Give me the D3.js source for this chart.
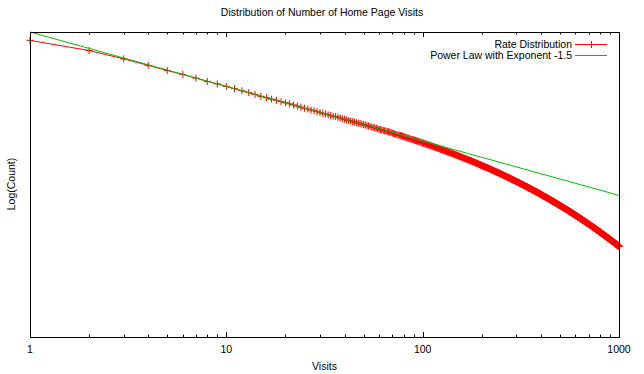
<!DOCTYPE html>
<html>
<head>
<meta charset="utf-8">
<script src="https://cdn.jsdelivr.net/npm/d3@7"></script>
<style>
  body { margin: 0; background: #fff; }
  text { font-family: "Liberation Sans", Arial, Helvetica, sans-serif; font-size: 10.5px; fill: #000; }
</style>
</head>
<body>
<div id="app"></div>
<script>
const title = 'Distribution of Number of Home Page Visits';
const xLabel = 'Visits';
const yLabel = 'Log(Count)';
const seriesNames = ['Rate Distribution', 'Power Law with Exponent -1.5'];
const xTickValues = [1, 10, 100, 1000];
const xTickLabels = ['1', '10', '100', '1000'];

// log10(count) for visits = 1, 2, 3, ... 1000
const logCount = [
  8.17,7.89,7.66,7.48,7.34,7.23,7.13,7.04,6.97,6.90,
  6.84,6.78,6.73,6.68,6.63,6.59,6.55,6.52,6.48,6.45,
  6.42,6.39,6.36,6.33,6.30,6.28,6.25,6.23,6.21,6.18,
  6.16,6.14,6.12,6.10,6.08,6.07,6.05,6.03,6.01,6.00,
  5.98,5.96,5.95,5.93,5.92,5.90,5.89,5.88,5.86,5.85,
  5.84,5.82,5.81,5.80,5.78,5.77,5.76,5.75,5.74,5.72,
  5.71,5.70,5.69,5.68,5.67,5.66,5.65,5.64,5.63,5.62,
  5.60,5.59,5.58,5.57,5.56,5.56,5.55,5.54,5.53,5.52,
  5.51,5.50,5.49,5.48,5.47,5.46,5.45,5.44,5.44,5.43,
  5.42,5.41,5.40,5.39,5.39,5.38,5.37,5.36,5.35,5.34,
  5.34,5.33,5.32,5.31,5.31,5.30,5.29,5.28,5.28,5.27,
  5.26,5.25,5.25,5.24,5.23,5.22,5.22,5.21,5.20,5.20,
  5.19,5.18,5.17,5.17,5.16,5.15,5.15,5.14,5.13,5.13,
  5.12,5.11,5.11,5.10,5.09,5.09,5.08,5.07,5.07,5.06,
  5.06,5.05,5.04,5.04,5.03,5.02,5.02,5.01,5.01,5.00,
  4.99,4.99,4.98,4.98,4.97,4.96,4.96,4.95,4.95,4.94,
  4.93,4.93,4.92,4.92,4.91,4.91,4.90,4.89,4.89,4.88,
  4.88,4.87,4.87,4.86,4.86,4.85,4.85,4.84,4.83,4.83,
  4.82,4.82,4.81,4.81,4.80,4.80,4.79,4.79,4.78,4.78,
  4.77,4.77,4.76,4.75,4.75,4.74,4.74,4.73,4.73,4.72,
  4.72,4.71,4.71,4.70,4.70,4.69,4.69,4.68,4.68,4.67,
  4.67,4.67,4.66,4.66,4.65,4.65,4.64,4.64,4.63,4.63,
  4.62,4.62,4.61,4.61,4.60,4.60,4.59,4.59,4.58,4.58,
  4.57,4.57,4.57,4.56,4.56,4.55,4.55,4.54,4.54,4.53,
  4.53,4.53,4.52,4.52,4.51,4.51,4.50,4.50,4.49,4.49,
  4.49,4.48,4.48,4.47,4.47,4.46,4.46,4.45,4.45,4.45,
  4.44,4.44,4.43,4.43,4.43,4.42,4.42,4.41,4.41,4.40,
  4.40,4.40,4.39,4.39,4.38,4.38,4.38,4.37,4.37,4.36,
  4.36,4.35,4.35,4.35,4.34,4.34,4.33,4.33,4.33,4.32,
  4.32,4.31,4.31,4.31,4.30,4.30,4.29,4.29,4.29,4.28,
  4.28,4.28,4.27,4.27,4.26,4.26,4.26,4.25,4.25,4.24,
  4.24,4.24,4.23,4.23,4.23,4.22,4.22,4.21,4.21,4.21,
  4.20,4.20,4.19,4.19,4.19,4.18,4.18,4.18,4.17,4.17,
  4.17,4.16,4.16,4.15,4.15,4.15,4.14,4.14,4.14,4.13,
  4.13,4.13,4.12,4.12,4.11,4.11,4.11,4.10,4.10,4.10,
  4.09,4.09,4.09,4.08,4.08,4.08,4.07,4.07,4.06,4.06,
  4.06,4.05,4.05,4.05,4.04,4.04,4.04,4.03,4.03,4.03,
  4.02,4.02,4.02,4.01,4.01,4.01,4.00,4.00,4.00,3.99,
  3.99,3.99,3.98,3.98,3.98,3.97,3.97,3.97,3.96,3.96,
  3.96,3.95,3.95,3.95,3.94,3.94,3.94,3.93,3.93,3.93,
  3.92,3.92,3.92,3.91,3.91,3.91,3.90,3.90,3.90,3.89,
  3.89,3.89,3.88,3.88,3.88,3.87,3.87,3.87,3.86,3.86,
  3.86,3.86,3.85,3.85,3.85,3.84,3.84,3.84,3.83,3.83,
  3.83,3.82,3.82,3.82,3.81,3.81,3.81,3.81,3.80,3.80,
  3.80,3.79,3.79,3.79,3.78,3.78,3.78,3.77,3.77,3.77,
  3.77,3.76,3.76,3.76,3.75,3.75,3.75,3.74,3.74,3.74,
  3.74,3.73,3.73,3.73,3.72,3.72,3.72,3.71,3.71,3.71,
  3.71,3.70,3.70,3.70,3.69,3.69,3.69,3.69,3.68,3.68,
  3.68,3.67,3.67,3.67,3.66,3.66,3.66,3.66,3.65,3.65,
  3.65,3.64,3.64,3.64,3.64,3.63,3.63,3.63,3.62,3.62,
  3.62,3.62,3.61,3.61,3.61,3.60,3.60,3.60,3.60,3.59,
  3.59,3.59,3.59,3.58,3.58,3.58,3.57,3.57,3.57,3.57,
  3.56,3.56,3.56,3.56,3.55,3.55,3.55,3.54,3.54,3.54,
  3.54,3.53,3.53,3.53,3.52,3.52,3.52,3.52,3.51,3.51,
  3.51,3.51,3.50,3.50,3.50,3.49,3.49,3.49,3.49,3.48,
  3.48,3.48,3.48,3.47,3.47,3.47,3.47,3.46,3.46,3.46,
  3.45,3.45,3.45,3.45,3.44,3.44,3.44,3.44,3.43,3.43,
  3.43,3.43,3.42,3.42,3.42,3.42,3.41,3.41,3.41,3.41,
  3.40,3.40,3.40,3.39,3.39,3.39,3.39,3.38,3.38,3.38,
  3.38,3.37,3.37,3.37,3.37,3.36,3.36,3.36,3.36,3.35,
  3.35,3.35,3.35,3.34,3.34,3.34,3.34,3.33,3.33,3.33,
  3.33,3.32,3.32,3.32,3.32,3.31,3.31,3.31,3.31,3.30,
  3.30,3.30,3.30,3.29,3.29,3.29,3.29,3.28,3.28,3.28,
  3.28,3.27,3.27,3.27,3.27,3.26,3.26,3.26,3.26,3.25,
  3.25,3.25,3.25,3.24,3.24,3.24,3.24,3.23,3.23,3.23,
  3.23,3.22,3.22,3.22,3.22,3.21,3.21,3.21,3.21,3.21,
  3.20,3.20,3.20,3.20,3.19,3.19,3.19,3.19,3.18,3.18,
  3.18,3.18,3.17,3.17,3.17,3.17,3.17,3.16,3.16,3.16,
  3.16,3.15,3.15,3.15,3.15,3.14,3.14,3.14,3.14,3.13,
  3.13,3.13,3.13,3.13,3.12,3.12,3.12,3.12,3.11,3.11,
  3.11,3.11,3.10,3.10,3.10,3.10,3.10,3.09,3.09,3.09,
  3.09,3.08,3.08,3.08,3.08,3.07,3.07,3.07,3.07,3.07,
  3.06,3.06,3.06,3.06,3.05,3.05,3.05,3.05,3.05,3.04,
  3.04,3.04,3.04,3.03,3.03,3.03,3.03,3.03,3.02,3.02,
  3.02,3.02,3.01,3.01,3.01,3.01,3.00,3.00,3.00,3.00,
  3.00,2.99,2.99,2.99,2.99,2.99,2.98,2.98,2.98,2.98,
  2.97,2.97,2.97,2.97,2.97,2.96,2.96,2.96,2.96,2.95,
  2.95,2.95,2.95,2.95,2.94,2.94,2.94,2.94,2.94,2.93,
  2.93,2.93,2.93,2.92,2.92,2.92,2.92,2.92,2.91,2.91,
  2.91,2.91,2.91,2.90,2.90,2.90,2.90,2.89,2.89,2.89,
  2.89,2.89,2.88,2.88,2.88,2.88,2.88,2.87,2.87,2.87,
  2.87,2.86,2.86,2.86,2.86,2.86,2.85,2.85,2.85,2.85,
  2.85,2.84,2.84,2.84,2.84,2.84,2.83,2.83,2.83,2.83,
  2.83,2.82,2.82,2.82,2.82,2.82,2.81,2.81,2.81,2.81,
  2.80,2.80,2.80,2.80,2.80,2.79,2.79,2.79,2.79,2.79,
  2.78,2.78,2.78,2.78,2.78,2.77,2.77,2.77,2.77,2.77,
  2.76,2.76,2.76,2.76,2.76,2.75,2.75,2.75,2.75,2.75,
  2.74,2.74,2.74,2.74,2.74,2.73,2.73,2.73,2.73,2.73,
  2.72,2.72,2.72,2.72,2.72,2.71,2.71,2.71,2.71,2.71,
  2.70,2.70,2.70,2.70,2.70,2.69,2.69,2.69,2.69,2.69,
  2.68,2.68,2.68,2.68,2.68,2.67,2.67,2.67,2.67,2.67,
  2.66,2.66,2.66,2.66,2.66,2.65,2.65,2.65,2.65,2.65,
  2.65,2.64,2.64,2.64,2.64,2.64,2.63,2.63,2.63,2.63,
  2.63,2.62,2.62,2.62,2.62,2.62,2.61,2.61,2.61,2.61,
  2.61,2.60,2.60,2.60,2.60,2.60,2.59,2.59,2.59,2.59,
  2.59,2.59,2.58,2.58,2.58,2.58,2.58,2.57,2.57,2.57,
  2.57,2.57,2.56,2.56,2.56,2.56,2.56,2.56,2.55,2.55,
  2.55,2.55,2.55,2.54,2.54,2.54,2.54,2.54,2.53,2.53,
  2.53,2.53,2.53,2.53,2.52,2.52,2.52,2.52,2.52,2.51,
  2.51,2.51,2.51,2.51,2.50,2.50,2.50,2.50,2.50,2.50
];

// fitted power law, straight in log-log: end points
const powerLawVisits = [1, 1000];
const powerLawLogCount = [8.4, 3.9];

const width = 644;
const height = 374;
const plotLeft = 30, plotRight = 619, plotTop = 32, plotBottom = 337;
const red = '#ff0000';
const green = '#00c000';

const rate = logCount.map((v, i) => ({ visits: i + 1, v }));
const power = powerLawVisits.map((d, i) => ({ visits: d, v: powerLawLogCount[i] }));

const x = d3.scaleLog().domain([1, 1000]).range([plotLeft, plotRight]);
const y = d3.scaleLinear().domain([0, 8.4]).range([plotBottom, plotTop]);

const svg = d3.select('#app').append('svg')
  .attr('width', width)
  .attr('height', height)
  .attr('viewBox', [0, 0, width, height]);

svg.append('rect').attr('width', width).attr('height', height).attr('fill', '#fff');

// ticks on bottom and top, pointing inward
const ticks = x.ticks();
const isMajor = (t) => xTickValues.includes(t);
const tickG = svg.append('g').attr('stroke', '#000').attr('stroke-width', 1);
ticks.forEach((t) => {
  const px = Math.round(x(t)) + 0.5;
  const len = isMajor(t) ? 5 : 2.5;
  tickG.append('line').attr('x1', px).attr('x2', px).attr('y1', plotBottom).attr('y2', plotBottom - len);
  tickG.append('line').attr('x1', px).attr('x2', px).attr('y1', plotTop).attr('y2', plotTop + len);
});

svg.append('g')
  .selectAll('text')
  .data(xTickValues)
  .join('text')
  .attr('x', (d) => x(d))
  .attr('y', 353)
  .attr('text-anchor', 'middle')
  .text((d, i) => xTickLabels[i]);

// rate distribution: line + markers
const line = d3.line().x((d) => x(d.visits)).y((d) => y(d.v));
svg.append('path')
  .datum(rate)
  .attr('d', line)
  .attr('fill', 'none')
  .attr('stroke', red)
  .attr('stroke-width', 1);

const m = 3.5;
let plus = '';
rate.forEach((d) => {
  const px = x(d.visits), py = y(d.v);
  plus += `M${px - m},${py}h${2 * m}M${px},${py - m}v${2 * m}`;
});
svg.append('path').attr('d', plus).attr('fill', 'none').attr('stroke', red).attr('stroke-width', 1);

// power law
svg.append('path')
  .datum(power)
  .attr('d', line)
  .attr('fill', 'none')
  .attr('stroke', green)
  .attr('stroke-width', 1);

// border
svg.append('rect')
  .attr('x', plotLeft + 0.5)
  .attr('y', plotTop + 0.5)
  .attr('width', plotRight - plotLeft)
  .attr('height', plotBottom - plotTop)
  .attr('fill', 'none')
  .attr('stroke', '#000')
  .attr('stroke-width', 1);

// legend
const legend = svg.append('g');
const legendRows = [44, 55];
seriesNames.forEach((name, i) => {
  const ly = legendRows[i];
  legend.append('text').attr('x', 572).attr('y', ly + 3.8).attr('text-anchor', 'end').text(name);
  legend.append('line')
    .attr('x1', 575).attr('x2', 607).attr('y1', ly + 0.5).attr('y2', ly + 0.5)
    .attr('stroke', i === 0 ? red : green);
  if (i === 0) {
    legend.append('path')
      .attr('d', `M${591 - m},${ly + 0.5}h${2 * m}M${591.5},${ly + 0.5 - m}v${2 * m}`)
      .attr('stroke', red).attr('fill', 'none');
  }
});

// titles
svg.append('text').attr('x', 322).attr('y', 16).attr('text-anchor', 'middle').text(title);
svg.append('text').attr('x', 324.5).attr('y', 370).attr('text-anchor', 'middle').text(xLabel);
svg.append('text')
  .attr('transform', 'translate(15,184) rotate(-90)')
  .attr('text-anchor', 'middle')
  .text(yLabel);
</script>
</body>
</html>
